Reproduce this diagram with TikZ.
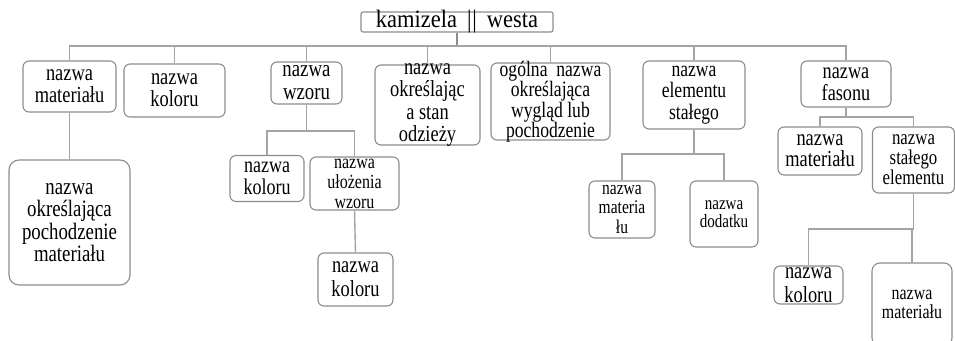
\documentclass[tikz,border=0pt]{standalone}
\usepackage{fontspec}
\setmainfont{Liberation Serif}[FakeStretch=0.8]
\newfontfamily\rootfont{Liberation Serif}[FakeStretch=0.9]
\definecolor{linegray}{HTML}{A4A4A4}
\definecolor{boxgray}{HTML}{8C8C8C}
\tikzset{
  box/.style={draw=boxgray, line width=1.1pt, rounded corners=6pt, inner xsep=0pt, inner ysep=-7pt,
    align=center, font=\fontsize{23}{22}\selectfont},
  link/.style={draw=linegray, line width=1.4pt}
}
\begin{document}
\begin{tikzpicture}[x=1pt,y=-1pt]
  \useasboundingbox (0,0) rectangle (955,340);
  % root
  \node[box, rounded corners=2pt, minimum width=192pt, minimum height=20pt,
        font=\rootfont\fontsize{25}{24}\selectfont] (root) at (457,22) {kamizela \,|\kern1pt|\, westa};
  % first level
  \node[box, minimum width=93pt, minimum height=51pt] (mat) at (69.5,86.5) {nazwa\\materiału};
  \node[box, minimum width=101pt, minimum height=53pt] (kol) at (174.5,90.5) {nazwa\\koloru};
  \node[box, minimum width=71pt, minimum height=42pt, font=\fontsize{23.5}{23}\selectfont] (wz) at (306.5,83) {nazwa\\wzoru};
  \node[box, minimum width=105pt, minimum height=80pt, font=\fontsize{23}{22.6}\selectfont] (stan) at (427.5,105) {nazwa\\określając\\a stan\\odzieży};
  \node[box, minimum width=119pt, minimum height=77pt, font=\fontsize{22}{20.5}\selectfont] (ogol) at (550.5,101.5) {ogólna\ \ nazwa\\określająca\\wygląd lub\\pochodzenie};
  \node[box, minimum width=102pt, minimum height=68pt, font=\fontsize{22}{21.5}\selectfont] (el) at (694,95) {nazwa\\elementu\\stałego};
  \node[box, minimum width=90pt, minimum height=46pt, font=\fontsize{22.8}{22}\selectfont] (fas) at (846,84) {nazwa\\fasonu};
  % second level
  \node[box, rounded corners=10pt, minimum width=121pt, minimum height=125pt, font=\fontsize{23.5}{22.3}\selectfont] (poch) at (69.5,222.5) {nazwa\\określająca\\pochodzenie\\materiału};
  \node[box, minimum width=74pt, minimum height=46pt, font=\fontsize{22.5}{21.5}\selectfont] (wzkol) at (267,178.5) {nazwa\\koloru};
  \node[box, minimum width=89pt, minimum height=53pt, font=\fontsize{20}{20}\selectfont] (uloz) at (354.5,183.5) {nazwa\\ułożenia\\wzoru};
  \node[box, minimum width=75pt, minimum height=53pt, font=\fontsize{23}{24}\selectfont] (ulkol) at (355.5,279.5) {nazwa\\koloru};
  \node[box, minimum width=66pt, minimum height=57pt, font=\fontsize{19.4}{19.5}\selectfont] (elmat) at (622,209.5) {nazwa\\materia\\łu};
  \node[box, minimum width=68pt, minimum height=66pt, font=\fontsize{18.8}{18.5}\selectfont] (eldod) at (724,214) {nazwa\\dodatku};
  \node[box, minimum width=84pt, minimum height=48pt, font=\fontsize{23}{21}\selectfont] (fasmat) at (820,151) {nazwa\\materiału};
  \node[box, minimum width=82pt, minimum height=66pt, font=\fontsize{21}{20}\selectfont] (fasel) at (913.5,160) {nazwa\\stałego\\elementu};
  \node[box, minimum width=69pt, minimum height=38pt, font=\fontsize{23}{24}\selectfont] (stkol) at (808.5,285) {nazwa\\koloru};
  \node[box, rounded corners=8pt, minimum width=80pt, minimum height=83pt, font=\fontsize{19.9}{19}\selectfont] (stmat) at (912,304.5) {nazwa\\materiału};
  % bus levels
  \coordinate (bus0) at (0,46);
  \coordinate (bus1) at (0,131);
  \coordinate (bus2) at (0,154);
  \coordinate (bus3) at (0,117);
  \coordinate (bus4) at (0,229);
  \begin{scope}[link]
    \draw[line width=2.2pt, draw=boxgray] (root.south) -- (root.south |- bus0);
    \draw[line width=2.2pt] (mat.north |- bus0) -- (fas.north |- bus0);
    \draw (root.south |- bus0) -| (mat.north);
    \draw (root.south |- bus0) -| (kol.north);
    \draw (root.south |- bus0) -| (wz.north);
    \draw (root.south |- bus0) -| (stan.north);
    \draw (root.south |- bus0) -| (ogol.north);
    \draw (root.south |- bus0) -| (el.north);
    \draw (root.south |- bus0) -| (fas.north);
    \draw (mat.south) -- (poch.north);
    \draw (wz.south) -- (wz.south |- bus1) -| (wzkol.north);
    \draw (wz.south |- bus1) -| (uloz.north);
    \draw (uloz.south) -- (ulkol.north);
    \draw (el.south) -- (el.south |- bus2) -| (elmat.north);
    \draw (el.south |- bus2) -| (eldod.north);
    \draw (fas.south) -- (fas.south |- bus3) -| (fasmat.north);
    \draw (fas.south |- bus3) -| (fasel.north);
    \draw (fasel.south) -- (fasel.south |- bus4) -| (stkol.north);
    \draw (fasel.south |- bus4) -| (stmat.north);
  \end{scope}
\end{tikzpicture}
\end{document}
